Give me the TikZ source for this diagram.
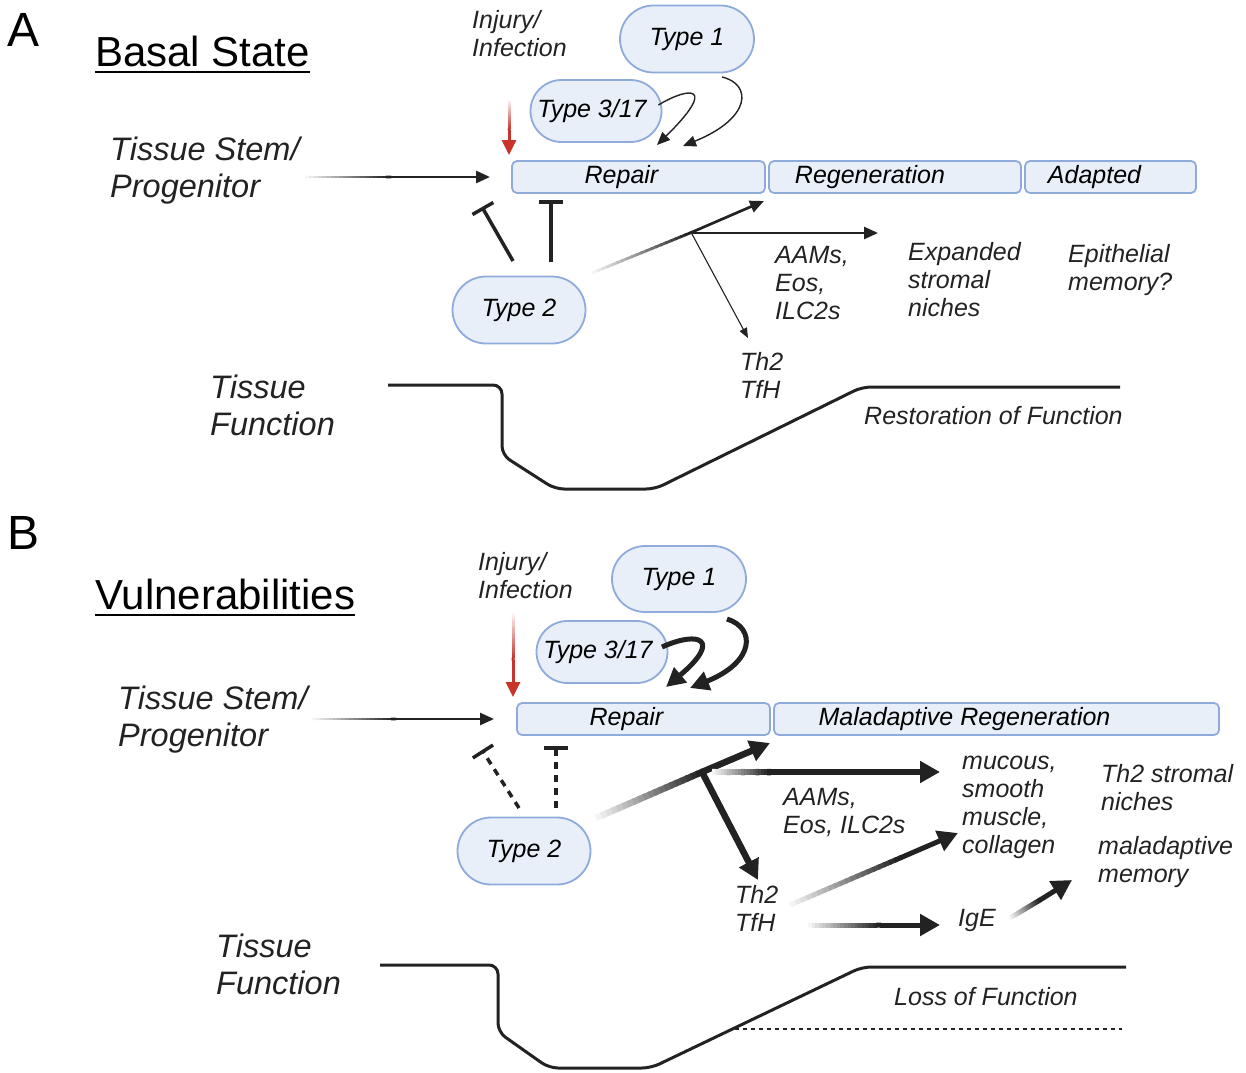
\documentclass[tikz,border=0pt]{standalone}
\usepackage{fontspec}
\setmainfont{Liberation Sans}
\usetikzlibrary{arrows.meta,calc,shapes.misc}
\definecolor{boxfill}{HTML}{E8EFF9}
\definecolor{boxline}{HTML}{8EABDB}
\definecolor{injred}{HTML}{C8332B}
\definecolor{ink}{HTML}{222222}
\newcommand\labfont{\fontsize{25bp}{28bp}\selectfont\itshape}
\newcommand\bigfont{\fontsize{32.5bp}{37bp}\selectfont\itshape}
% gradient line: #1 start, #2 end, #3 width, #4 colour
\newcommand\gline[4]{%
  \foreach \k in {0,...,19}{%
    \pgfmathsetmacro\ga{\k/20}%
    \pgfmathsetmacro\gb{(\k+1.3)/20}%
    \pgfmathsetmacro\gp{5*(\k+1)}%
    \draw[line width=#3, color=#4!\gp!white] ($(#1)!\ga!(#2)$) -- ($(#1)!\gb!(#2)$);
  }}
\tikzset{
  pill/.style={rounded rectangle, draw=boxline, line width=1.8bp, fill=boxfill,
    font=\labfont, inner sep=0pt},
  stage/.style={rectangle, rounded corners=5bp, draw=boxline, line width=1.8bp,
    fill=boxfill, font=\labfont, minimum height=32bp, inner sep=0pt},
  lab/.style={font=\labfont, align=left, anchor=west, inner sep=0pt, text=ink},
  biglab/.style={font=\bigfont, align=left, anchor=west, inner sep=0pt, text=ink},
  thin/.style={draw=ink, line width=2.7bp, -{Triangle[length=14bp,width=12bp]}},
  hair/.style={draw=ink, line width=1.1bp, -{Triangle[length=10bp,width=8bp]}},
  thick/.style={draw=ink, line width=6.5bp, -{Triangle[length=20bp,width=21bp]}},
  curvethin/.style={draw=ink, line width=1.4bp, -{Triangle[length=13bp,width=11bp]}},
  curvethick/.style={draw=ink, line width=5bp, -{Triangle[length=19bp,width=19bp]}},
  inhib/.style={draw=ink, line width=3.5bp, -{Bar[width=24bp,line width=3.5bp]}},
  inhibd/.style={draw=ink, line width=3.5bp, dash pattern=on 7bp off 6bp, -{Bar[width=24bp,line width=3.5bp]}},
  redarr/.style={draw=injred, line width=3bp, -{Triangle[length=15bp,width=14bp]}},
  func/.style={draw=ink, line width=3bp, rounded corners=9bp},
}
\begin{document}
\begin{tikzpicture}[x=1bp, y=-1bp]
\useasboundingbox (0,0) rectangle (1246,1073);
% ================= Panel A =================
\node[font=\fontsize{48bp}{50bp}\selectfont, inner sep=0pt] (pA) at (24,30) {A};
\node[font=\fontsize{42bp}{46bp}\selectfont, anchor=base west, inner sep=0pt] (basal) at (95,66) {Basal State};
\draw[line width=2bp] ($(basal.base west)+(0,6)$) -- ($(basal.base east)+(0,6)$);

\node[lab] (injA) at (472,34) {Injury/\\Infection};
\node[pill, minimum width=134bp, minimum height=67bp] (t1A) at (687,39) {Type 1};
\node[pill, minimum width=131bp, minimum height=62bp] (t3A) at (596,111) {\hspace*{-8bp}Type 3/17};

\node[stage, minimum width=253bp] (repA) at (638.5,177) {\hspace*{-34bp}Repair};
\node[stage, minimum width=252bp] (regA) at (895,177) {\hspace*{-50bp}Regeneration};
\node[stage, minimum width=171bp] (adaA) at (1110.5,177) {\hspace*{-32bp}Adapted};

\node[biglab] (tsA) at (110,171) {Tissue Stem/\\Progenitor};
\coordinate (tsA1) at (305,177);
\coordinate (tsA2) at (390,177);
\coordinate (tsA3) at (490,177);
\gline{tsA1}{tsA2}{2.7bp}{ink}
\draw[thin] (tsA2) -- (tsA3);

% red injury arrow
\coordinate (rA1) at (509,100);
\coordinate (rA2) at (509,130);
\coordinate (rA3) at (509,155);
\gline{rA1}{rA2}{3bp}{injred}
\draw[redarr] (rA2) -- (rA3);

% curved arrows
\draw[curvethin] (t3A.east) ++(-4,-6) coordinate (c1s) .. controls (690,86) and (718,85) .. (657,145);
\draw[curvethin] (722,77) .. controls (752,84) and (752,118) .. (683,146);

% Type 2
\node[pill, minimum width=133bp, minimum height=67bp] (t2A) at (519,310) {Type 2};
\coordinate (iA1s) at (513,261);
\coordinate (iA1e) at (482,207);
\draw[inhib] (iA1s) -- (iA1e);
\coordinate (iA2s) at (551,262);
\coordinate (iA2e) at (551,200);
\draw[inhib] (iA2s) -- (iA2e);

\coordinate (gA1) at (592,273);
\coordinate (brA) at (690,233);
\gline{gA1}{brA}{2.8bp}{ink}
\coordinate (regAin) at (764,201);
\draw[thin] (brA) -- (regAin);
\coordinate (expA) at (878,233);
\draw[thin] (brA) -- (expA);
\coordinate (thA) at (748,338);
\draw[hair] ($(brA)+(2,1)$) -- (thA);

\node[lab] (aamA) at (775,283) {AAMs,\\Eos,\\ILC2s};
\node[lab] (expTxtA) at (908,280) {Expanded\\stromal\\niches};
\node[lab] (epiA) at (1068,270) {Epithelial\\memory?};
\node[lab] (thTxtA) at (740,375) {Th2\\TfH};

\node[biglab] (tfA) at (210,405) {Tissue\\Function};
\draw[func] (388,385) -- (502,385) -- (502,455) -- (555,489) -- (655,489) -- (862,387) -- (1120,387);
\node[lab] (restA) at (864,416) {Restoration of Function};

% ================= Panel B =================
\node[font=\fontsize{48bp}{50bp}\selectfont, inner sep=0pt] (pB) at (24,533) {B};
\node[font=\fontsize{42bp}{46bp}\selectfont, anchor=base west, inner sep=0pt] (vuln) at (95,609) {Vulnerabilities};
\draw[line width=2bp] ($(vuln.base west)+(0,6)$) -- ($(vuln.base east)+(0,6)$);

\node[lab] (injB) at (478,576) {Injury/\\Infection};
\node[pill, minimum width=134bp, minimum height=66bp] (t1B) at (679,579) {Type 1};
\node[pill, minimum width=131bp, minimum height=62bp] (t3B) at (602,652) {\hspace*{-8bp}Type 3/17};

\node[stage, minimum width=253bp] (repB) at (643.5,719) {\hspace*{-34bp}Repair};
\node[stage, minimum width=445bp] (malB) at (996.5,719) {\hspace*{-64bp}Maladaptive Regeneration};

\node[biglab] (tsB) at (118,720) {Tissue Stem/\\Progenitor};
\coordinate (tsB1) at (312,719);
\coordinate (tsB2) at (395,719);
\coordinate (tsB3) at (494,719);
\gline{tsB1}{tsB2}{2.7bp}{ink}
\draw[thin] (tsB2) -- (tsB3);

\coordinate (rB1) at (513,613);
\coordinate (rB2) at (513,660);
\coordinate (rB3) at (513,697);
\gline{rB1}{rB2}{3bp}{injred}
\draw[redarr] (rB2) -- (rB3);

\draw[curvethick] (662,647) .. controls (700,630) and (722,640) .. (666,687);
\draw[curvethick] (727,619) .. controls (756,628) and (755,662) .. (690,688);

\node[pill, minimum width=133bp, minimum height=67bp] (t2B) at (524,851) {Type 2};
\coordinate (iB1s) at (519,808);
\coordinate (iB1e) at (482,750);
\draw[inhibd] (iB1s) -- (iB1e);
\coordinate (iB2s) at (556,808);
\coordinate (iB2e) at (556,746);
\draw[inhibd] (iB2s) -- (iB2e);

\coordinate (gB1) at (596,818);
\coordinate (brB) at (702,772);
\gline{gB1}{brB}{6.5bp}{ink}
\coordinate (repBin) at (770,743);
\draw[thick] (brB) -- (repBin);
\coordinate (hB1) at (712,772);
\coordinate (hB2) at (770,772);
\gline{hB1}{hB2}{6.5bp}{ink}
\coordinate (mucB) at (940,772);
\draw[thick] (hB2) -- (mucB);
\coordinate (thB) at (758,880);
\draw[thick] (brB) -- (thB);

\node[lab] (aamB) at (783,812) {AAMs,\\Eos, ILC2s};
\node[lab] (mucTxtB) at (962,807) {mucous,\\smooth\\muscle,\\collagen};
\node[lab] (strB) at (1101,788) {Th2 stromal\\niches};
\node[lab] (memB) at (1098,862) {maladaptive\\memory};
\node[lab] (thTxtB) at (735,908) {Th2\\TfH};
\node[lab] (igeB) at (958,920) {IgE};

\coordinate (cB1) at (790,905);
\coordinate (cB2) at (900,858);
\coordinate (cB3) at (958,833);
\gline{cB1}{cB2}{5bp}{ink}
\draw[thick, line width=5bp] (cB2) -- (cB3);

\coordinate (iB1) at (808,925);
\coordinate (iB2) at (880,925);
\coordinate (iB3) at (940,925);
\gline{iB1}{iB2}{5bp}{ink}
\draw[thick, line width=5bp] (iB2) -- (iB3);

\coordinate (mB1) at (1010,918);
\coordinate (mB2) at (1040,900);
\coordinate (mB3) at (1072,880);
\gline{mB1}{mB2}{5bp}{ink}
\draw[thick, line width=5bp] (mB2) -- (mB3);

\node[biglab] (tfB) at (216,964) {Tissue\\Function};
\draw[func] (380,965) -- (498,965) -- (498,1032) -- (549,1068) -- (651,1068) -- (862,967) -- (1126,967);
\draw[ink, line width=2.8bp, dash pattern=on 4bp off 4bp] (735,1029) -- (1122,1029);
\node[lab] (lossB) at (894,997) {Loss of Function};
\end{tikzpicture}
\end{document}
